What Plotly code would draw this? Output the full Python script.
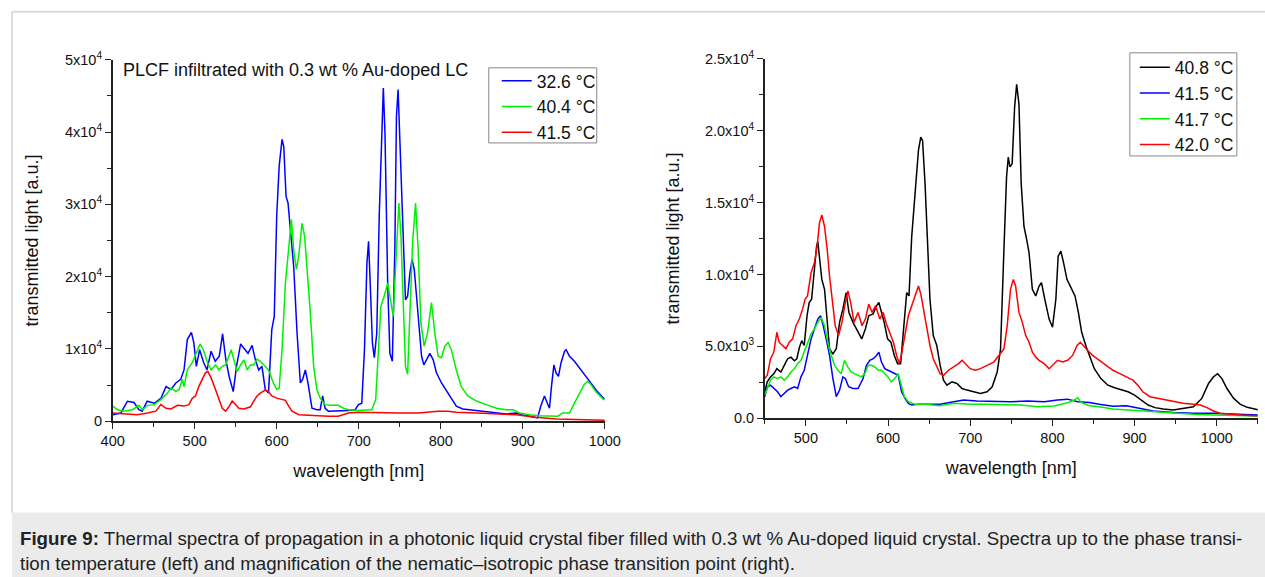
import plotly.graph_objects as go

# ---------------- Left panel data ----------------
left_blue_x = [400, 410, 418, 426, 432, 436, 442, 451, 459, 465, 471, 477, 483, 487, 491, 496, 499, 502, 506, 511,
               515, 520, 525, 530, 534, 538, 542, 547, 551, 556, 560, 565, 570, 574, 578, 582, 586, 590, 594, 597,
               600, 603, 606.5, 608.6, 611.4, 613.8, 616.7, 620.7, 624.8, 628.8, 631.6, 634.9, 638.1, 643, 649, 653,
               656, 659, 663, 675, 687.5, 695.6, 699.7, 703.7, 707, 710, 712, 714, 716.7, 719, 722, 725, 728, 730,
               732, 735.3, 738, 741, 744, 746, 748, 751, 754.3, 757, 759.6, 762.4, 765, 767.7, 770.5, 773.4, 776.6,
               779.4, 782.7, 786.7, 790.8, 794.8, 800.9, 805, 811, 819, 827, 835, 847.5, 864, 880, 892, 898, 908,
               918, 922, 926.5, 930, 932.6, 935, 938, 940.6, 943.5, 946.7, 951, 952.8, 957, 963, 969, 977, 985, 991,
               998.5, 1000]
left_blue_y = [900, 1150, 2770, 2600, 1600, 1400, 2770, 2500, 3200, 4800, 4400, 5300, 5800, 7100, 11300, 12300, 10800,
               7600, 9900, 8100, 7100, 9700, 8300, 9000, 12100, 8500, 6200, 4100, 7600, 10700, 10100, 9400, 10500,
               8500, 7100, 7600, 4400, 3900, 12700, 14500, 28400, 35300, 39000, 38000, 31100, 30200, 26500, 21400,
               12200, 5300, 5800, 7100, 5300, 1800, 1600, 1600, 3500, 1800, 1400, 1400, 1500, 1600, 2300, 2500, 9900,
               21900, 24900, 19100, 10800, 8800, 12200, 28400, 39900, 46100, 39900, 19100, 9400, 8300, 23700, 42200,
               45900, 35300, 23700, 16800, 17300, 20500, 22400, 21000, 17300, 13600, 9000, 7800, 8500, 9400, 8500,
               6700, 5300, 4600, 3500, 2100, 1700, 1600, 1400, 1150, 1000, 1150, 900, 700, 460, 2100, 3500, 2500, 1800,
               4800, 7800, 6700, 6200, 8100, 9700, 9900, 9000, 8300, 7400, 6200, 5100, 4100, 3200, 3100]

left_green_x = [400, 406, 414, 424, 432, 436, 442.5, 450.6, 458.7, 466.8, 471, 477, 481, 485, 487, 491, 497, 502,
                506.5, 510.5, 515, 520, 525.5, 529.5, 533.6, 537.7, 541.7, 544.5, 547.8, 551.8, 556, 560, 564, 568,
                572, 576, 580, 584, 590, 596, 600, 603, 606.5, 610.6, 614.6, 617.9, 620.7, 624, 626.8, 630.8, 634,
                637, 641, 645, 649, 653, 659, 667, 675, 681.4, 687.5, 697.6, 707.8, 716, 720.7, 724, 727, 731, 735.3,
                738, 742, 746, 749, 751.5, 754.3, 757, 759.6, 762.4, 765.7, 769.3, 772.5, 775.8, 779.8, 783.9, 788.7,
                792.8, 796.8, 800.9, 805, 809, 813, 819, 825, 833, 843.5, 855.6, 868, 880, 888, 896, 908, 920, 932.6,
                942.7, 948.7, 957, 963, 969, 975, 979, 983, 989, 998.5, 1000]
left_green_y = [2100, 1600, 1400, 1600, 2200, 1600, 2200, 2300, 3000, 3900, 4600, 4100, 4400, 5800, 4800, 7100, 8100,
                9400, 10700, 9900, 8300, 7100, 7800, 7100, 7600, 7800, 9000, 9900, 8500, 6900, 7800, 8500, 7100, 7800,
                7800, 8600, 8300, 7800, 7100, 5300, 4400, 4600, 9900, 19100, 23700, 27900, 23700, 21000, 22800, 27400,
                25600, 21400, 15000, 7600, 4400, 3200, 2300, 2200, 2200, 1800, 1600, 1500, 1500, 1600, 3000, 9900,
                15900, 17300, 19100, 17300, 14500, 23700, 30200, 25600, 16400, 7600, 6500, 14500, 24700, 30200, 23700,
                13600, 10400, 12200, 16400, 12200, 9000, 8800, 10400, 10900, 9900, 7100, 4800, 3500, 2800, 2300, 1800,
                1600, 1600, 1150, 900, 780, 700, 700, 1150, 1150, 2500, 3900, 5100, 5500, 5100, 4100, 3000, 3000]

left_red_x = [400, 414, 430, 442.5, 452.6, 458.7, 465, 471, 479, 487, 493, 497, 501, 505, 509, 513, 516, 520, 524,
              529.5, 533.6, 537.7, 541.7, 545.7, 550, 554, 560, 568, 572, 576, 580, 586, 590, 594, 600, 606.5, 610.6,
              614.6, 618.7, 627, 643, 663, 675, 687.5, 700, 724, 748, 772.5, 797, 809, 819, 843.5, 868, 892, 916,
              940.6, 965, 1000]
left_red_y = [1150, 1050, 900, 1150, 1400, 2300, 1800, 1700, 2200, 2100, 2300, 3200, 3500, 4800, 5800, 6700, 6900,
              6000, 4800, 3200, 1800, 1400, 2000, 2800, 2300, 1800, 1700, 2000, 2800, 3500, 3900, 4300, 4100, 3500,
              3200, 3000, 2900, 2100, 1400, 900, 780, 700, 700, 1150, 1250, 1150, 1150, 1150, 1400, 1400, 1250, 1150,
              1000, 900, 550, 320, 230, 140]

left_names = ["32.6 \u00b0C", "40.4 \u00b0C", "41.5 \u00b0C"]

# ---------------- Right panel data ----------------
right_black_x = [450, 453, 457, 461, 464.7, 469.6, 473.7, 477.8, 481.8, 486, 489, 492, 495, 498, 501.4, 504, 507,
                 510.4, 513, 514.5, 517, 519.4, 522.7, 526, 528.8, 532.9, 537, 541, 545, 549, 552.4, 557.3, 563.5,
                 568, 572.4, 576.5, 581.8, 586, 588.8, 592, 595.3, 599.4, 603.5, 607.6, 611.6, 615.3, 618.6, 622.7,
                 625.5, 628.8, 632.9, 637, 639.8, 642, 645, 648, 651, 655, 659.3, 663.4, 667.5, 671.6, 677.7, 683.8,
                 690, 696, 704.2, 712.4, 720.5, 726.7, 732.8, 736.9, 741, 744.2, 746.3, 748.3, 751, 754, 756.5, 759.3,
                 762, 765.4, 768.7, 771.6, 775.6, 779.7, 783.8, 786.7, 790.7, 796, 800.1, 804.2, 807, 810.3, 813.6,
                 817.7, 822.6, 827.5, 831.6, 835.6, 841, 845, 851, 859, 867.5, 875.7, 884, 892, 900, 908, 916.5, 924.7,
                 935, 947, 959, 971.6, 981.8, 990, 996, 1001, 1006.3, 1012.4, 1020.6, 1028.8, 1037, 1047, 1050]
right_black_y = [1840, 2530, 2880, 3100, 3450, 3220, 3680, 4140, 4250, 4000, 4140, 4900, 5400, 5060, 7130, 8050, 8280,
                 10350, 11960, 12300, 10800, 9660, 8970, 6670, 4830, 4480, 4830, 6670, 7590, 8740, 7360, 6670, 5980,
                 5520, 6210, 7130, 7250, 7820, 8050, 7360, 6670, 5520, 5290, 4370, 3800, 3800, 5980, 8740, 8510, 12650,
                 15640, 18630, 19550, 19300, 16330, 11730, 8280, 5750, 5060, 3680, 2650, 2300, 2530, 2420, 2070, 1960,
                 1840, 1730, 1840, 2190, 3220, 4830, 11730, 16790, 18170, 17480, 17710, 21620, 23230, 21850, 16330,
                 13340, 12420, 11500, 8970, 8510, 9200, 9430, 8280, 6900, 6330, 8280, 11270, 11620, 10810, 9660, 9090,
                 8510, 7360, 5980, 5000, 4370, 3450, 2760, 2300, 2120, 1960, 1840, 1610, 1270, 920, 740, 640, 580, 690,
                 800, 1380, 2420, 2880, 3100, 2760, 2070, 1380, 970, 760, 640, 600]

right_blue_x = [450, 453, 457, 461, 465.5, 469.6, 473.7, 477.8, 481.8, 486, 490, 494, 498, 502, 506.3, 510.4, 514.5,
                517.8, 520.6, 524.7, 528.8, 532.9, 537, 541, 545, 548, 552, 557.3, 563.5, 569.6, 573.7, 577.8, 582,
                586, 588.8, 592, 596, 600, 604, 608, 612.4, 616.5, 620.6, 624.7, 628.8, 637, 663, 680, 692, 708, 729,
                749, 770, 790, 806, 818.5, 830.7, 845, 857, 873.7, 890, 906, 922.6, 947, 971.6, 996, 1020.6, 1047, 1050]
right_blue_y = [1500, 2190, 2300, 2070, 1840, 1500, 1730, 1960, 2070, 2190, 2070, 2880, 3340, 4370, 5520, 6210, 6900,
                7130, 6560, 5520, 4370, 2760, 1500, 1960, 2880, 2760, 2190, 2070, 2070, 2760, 3680, 4030, 4140, 4370,
                4600, 3910, 3450, 3340, 3220, 3100, 2990, 1840, 1380, 1040, 920, 970, 970, 1150, 1270, 1200, 1150,
                1150, 1200, 1150, 1270, 1330, 1150, 1100, 970, 830, 870, 690, 510, 410, 350, 350, 280, 230, 230]

right_green_x = [450, 453, 457, 461, 465.5, 469.6, 473.7, 477.8, 481.8, 486, 490, 494, 498, 502, 506.3, 510.4, 514.5,
                 518.6, 522.7, 526.7, 530.8, 535, 539, 543, 547, 551, 555, 559, 563.5, 567.6, 571.6, 575.7, 579.8, 584,
                 588, 592, 596, 600, 604, 608, 612.4, 615.7, 619.8, 624.7, 633, 645, 663, 680, 700, 720.5, 741, 761,
                 781.8, 802, 818.5, 826.7, 830.7, 835, 845, 857, 873.7, 890, 906, 922.6, 947, 971.6, 996, 1020.6, 1047,
                 1050]
right_green_y = [1610, 2070, 2650, 2880, 2760, 2880, 2650, 2880, 3220, 3450, 3800, 4030, 4600, 5290, 5870, 6210, 6670,
                 7010, 6440, 5290, 4370, 3680, 3340, 3100, 4030, 3570, 3220, 3100, 2990, 2880, 3100, 3680, 3680, 3570,
                 3340, 3340, 3100, 2880, 2530, 2760, 3100, 2300, 1500, 1150, 970, 970, 870, 1040, 970, 970, 970, 920,
                 800, 850, 1080, 1270, 1430, 1100, 870, 800, 640, 580, 510, 410, 350, 280, 230, 180, 160, 160]

right_red_x = [450, 453, 457, 461, 464.7, 467.5, 471.6, 475.7, 479.8, 483.9, 488, 492, 496, 499, 502, 506.3, 510.4,
               513.7, 516.5, 519.4, 522.7, 526, 528.8, 531.6, 535.7, 539.8, 543.9, 548, 551.2, 554.5, 558.6, 563.5,
               568.4, 572.4, 576.5, 580.6, 584.7, 590, 594, 598, 602, 606.5, 610.4, 613.7, 616.5, 620.6, 624.7, 628.8,
               632.9, 637, 640, 643, 647, 651, 655, 659.3, 663.4, 667.5, 673.6, 679.7, 685.8, 690, 694, 700, 706.2,
               712.4, 720.5, 728.7, 734.8, 741, 745, 749, 752.4, 755.2, 759.3, 763.4, 767.5, 771.6, 775.6, 779.7,
               783.8, 790, 796, 800, 806.3, 812.4, 818.5, 824.6, 830, 834, 839, 845, 849, 857, 865.5, 873.7, 882, 890,
               898, 904, 910, 918.6, 928.8, 939, 949, 959, 971.6, 979.8, 988, 996, 1004, 1016.5, 1028.8, 1047, 1050]
right_red_y = [2760, 2990, 4140, 4600, 5980, 5290, 5060, 4830, 5290, 5520, 6440, 6900, 7590, 8280, 8510, 10120, 10810,
               11960, 13570, 14140, 13340, 11730, 9890, 8280, 6440, 5750, 6670, 8050, 8860, 8050, 6670, 7360, 6440,
               6900, 7940, 7360, 7820, 6900, 7360, 6560, 5980, 5290, 4370, 3800, 4480, 5750, 7130, 7820, 8510, 9200,
               8600, 7590, 6210, 5060, 4140, 3570, 3100, 2990, 3340, 3570, 3800, 4030, 3800, 3450, 3340, 3450, 3680,
               3910, 4370, 4830, 6440, 8970, 9660, 9200, 7360, 6670, 5750, 5290, 4600, 4250, 4030, 3800, 3450, 3680,
               4030, 3910, 4030, 4370, 5060, 5290, 4950, 4600, 4370, 4030, 3680, 3340, 3100, 2880, 2650, 2300, 1840,
               1500, 1380, 1270, 1150, 1040, 970, 920, 740, 510, 350, 280, 230, 180, 180]

right_names = ["40.8 \u00b0C", "41.5 \u00b0C", "41.7 \u00b0C", "42.0 \u00b0C"]

left_yticks = [0, 10000, 20000, 30000, 40000, 50000]
left_yticktext = ["0", "1x10<sup>4</sup>", "2x10<sup>4</sup>", "3x10<sup>4</sup>", "4x10<sup>4</sup>", "5x10<sup>4</sup>"]
right_yticks = [0, 5000, 10000, 15000, 20000, 25000]
right_yticktext = ["0.0", "5.0x10<sup>3</sup>", "1.0x10<sup>4</sup>", "1.5x10<sup>4</sup>", "2.0x10<sup>4</sup>",
                   "2.5x10<sup>4</sup>"]

FONT = "Liberation Sans, Arial, sans-serif"
# screen mapping measured from earlier renders: screen = A * page + B
AX, BX, AY, BY = 0.978, 4.5, 0.968, 2.5
OFF = 8                      # page body margin
W = int(round((1265 - BX) / AX)) - OFF
H = int(round((577 - BY) / AY)) - OFF
GREEN = "#00f000"

fig = go.Figure()
lw = 1.5
for xs, ys, name, col in [(left_blue_x, left_blue_y, left_names[0], "#0000ff"),
                          (left_green_x, left_green_y, left_names[1], GREEN),
                          (left_red_x, left_red_y, left_names[2], "#ff0000")]:
    fig.add_trace(go.Scatter(x=xs, y=ys, name=name, mode="lines", line=dict(color=col, width=lw),
                             xaxis="x", yaxis="y", legend="legend"))
for xs, ys, name, col in [(right_black_x, right_black_y, right_names[0], "#000000"),
                          (right_blue_x, right_blue_y, right_names[1], "#0000ff"),
                          (right_green_x, right_green_y, right_names[2], GREEN),
                          (right_red_x, right_red_y, right_names[3], "#ff0000")]:
    fig.add_trace(go.Scatter(x=xs, y=ys, name=name, mode="lines", line=dict(color=col, width=lw),
                             xaxis="x2", yaxis="y2", legend="legend2"))

axis_common = dict(showgrid=False, zeroline=False, showline=True, linecolor="#222", linewidth=1.5,
                   ticks="outside", ticklen=6, tickwidth=1.2, tickcolor="#222",
                   tickfont=dict(family=FONT, size=14.5, color="#111"))
minor_common = dict(ticks="outside", ticklen=4, tickcolor="#222", tickwidth=1)


def px_x(p):
    f = (p - BX) / AX - OFF
    return min(max(f / W, 0), 1)


def px_y(p):
    f = (p - BY) / AY - OFF
    return min(max(1 - f / H, 0), 1)


title_font = dict(family=FONT, size=18, color="#111")
fig.update_layout(
    width=W, height=H, margin=dict(l=0, r=0, t=0, b=0),
    paper_bgcolor="white", plot_bgcolor="white",
    font=dict(family=FONT, color="#111"),
    xaxis=dict(domain=[px_x(113), px_x(605)], range=[400, 1000], anchor="y",
               tickvals=[400, 500, 600, 700, 800, 900, 1000],
               minor=dict(dtick=50, **minor_common),
               title=dict(text="wavelength [nm]", font=title_font, standoff=16), **axis_common),
    yaxis=dict(domain=[px_y(421), px_y(60)], range=[0, 50000], anchor="x", tickvals=left_yticks,
               ticktext=left_yticktext, minor=dict(dtick=5000, **minor_common),
               title=dict(text="transmitted light [a.u.]", font=title_font, standoff=22), **axis_common),
    xaxis2=dict(domain=[px_x(765), px_x(1258)], range=[450, 1050], anchor="y2",
                tickvals=[500, 600, 700, 800, 900, 1000],
                minor=dict(dtick=50, **minor_common),
                title=dict(text="wavelength [nm]", font=title_font, standoff=16), **axis_common),
    yaxis2=dict(domain=[px_y(418), px_y(59)], range=[0, 25000], anchor="x2", tickvals=right_yticks,
                ticktext=right_yticktext, minor=dict(dtick=2500, **minor_common),
                title=dict(text="transmitted light [a.u.]", font=title_font, standoff=21), **axis_common),
    legend=dict(x=px_x(497), y=px_y(63), xanchor="left", yanchor="top", bgcolor="rgba(0,0,0,0)",
                borderwidth=0, font=dict(family=FONT, size=17.5, color="#111"), itemwidth=30, tracegroupgap=0),
    legend2=dict(x=px_x(1135), y=px_y(49.5), xanchor="left", yanchor="top", bgcolor="rgba(0,0,0,0)",
                 borderwidth=0, font=dict(family=FONT, size=17.5, color="#111"), itemwidth=30, tracegroupgap=0),
    showlegend=True,
)

shapes = [
    dict(type="rect", xref="paper", yref="paper", x0=px_x(6), x1=1, y0=0, y1=px_y(512),
         fillcolor="#ebebeb", line=dict(width=0), layer="below"),
    dict(type="line", xref="paper", yref="paper", x0=px_x(7), x1=1, y0=px_y(12), y1=px_y(12),
         line=dict(color="#dcdcdc", width=2)),
    dict(type="line", xref="paper", yref="paper", x0=px_x(7), x1=px_x(7), y0=px_y(12), y1=px_y(512),
         line=dict(color="#dcdcdc", width=2)),
    # legend frames
    dict(type="rect", xref="paper", yref="paper", x0=px_x(489), x1=px_x(597), y0=px_y(143), y1=px_y(68),
         line=dict(color="#888", width=1), layer="below", fillcolor="white"),
    dict(type="rect", xref="paper", yref="paper", x0=px_x(1130), x1=px_x(1237), y0=px_y(156), y1=px_y(53),
         line=dict(color="#888", width=1), layer="below", fillcolor="white"),
]
fig.update_layout(shapes=shapes)

annotations = [
    dict(text="PLCF infiltrated with 0.3 wt % Au-doped LC", xref="paper", yref="paper", x=px_x(121), y=px_y(70),
         xanchor="left", yanchor="middle", showarrow=False, font=dict(family=FONT, size=18, color="#111")),
    dict(text="<b>Figure 9:</b> Thermal spectra of propagation in a photonic liquid crystal fiber filled with 0.3 wt % "
              "Au-doped liquid crystal. Spectra up to the phase transi-",
         xref="paper", yref="paper", x=px_x(18), y=px_y(538), xanchor="left", yanchor="middle", showarrow=False,
         font=dict(family=FONT, size=18.7, color="#222")),
    dict(text="tion temperature (left) and magnification of the nematic\u2013isotropic phase transition point (right).",
         xref="paper", yref="paper", x=px_x(18), y=px_y(563), xanchor="left", yanchor="middle", showarrow=False,
         font=dict(family=FONT, size=18.7, color="#222")),
]
fig.update_layout(annotations=annotations)

fig.write_html("out.html")
